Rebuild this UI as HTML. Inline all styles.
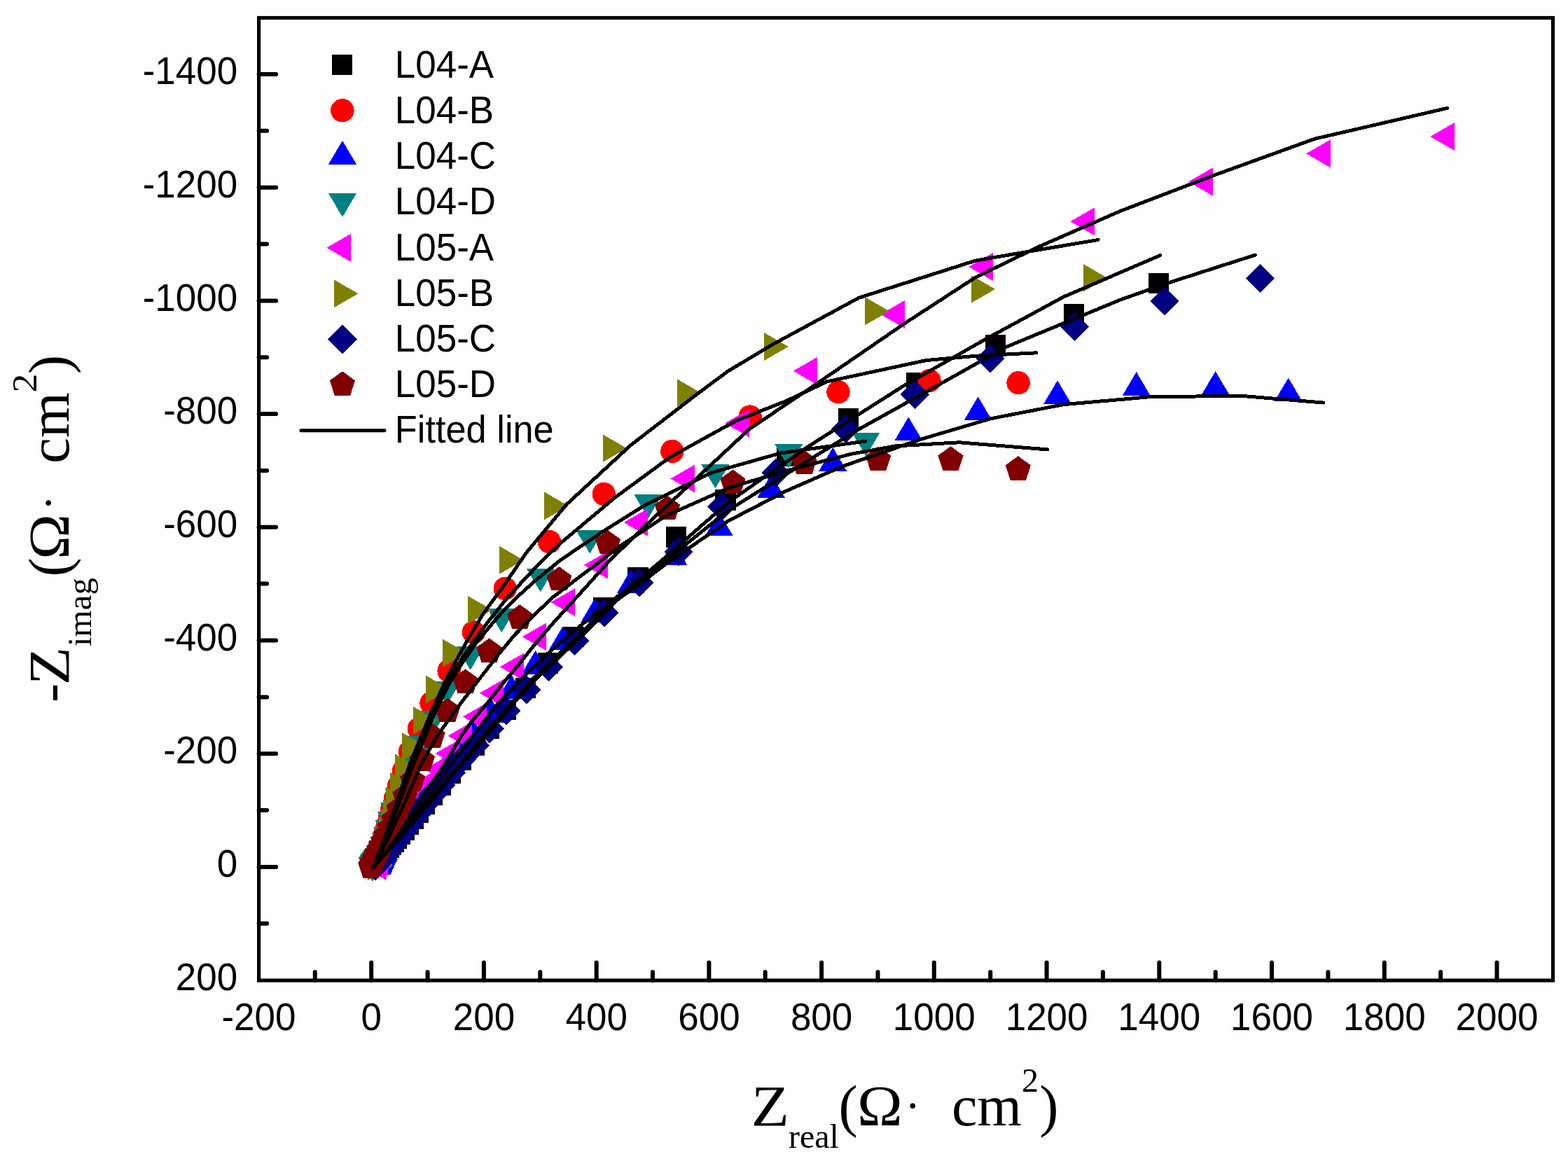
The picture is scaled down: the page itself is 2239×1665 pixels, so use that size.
<!DOCTYPE html>
<html lang="en"><head><meta charset="utf-8"><title>Nyquist plot</title>
<style>
html,body{margin:0;padding:0;background:#fff;}
body{width:2239px;height:1665px;overflow:hidden;}
svg{display:block;}
.tk{font-family:"Liberation Sans",Arial,sans-serif;font-size:53px;fill:#000;}
.ti{font-family:"Liberation Serif","Times New Roman",serif;font-size:81.5px;fill:#000;}
.su{font-family:"Liberation Serif","Times New Roman",serif;font-size:48px;fill:#000;}
</style></head><body>
<svg width="2239" height="1665" viewBox="0 0 2239 1665">
<rect x="0" y="0" width="2239" height="1665" fill="#fefefe"/>

<g shape-rendering="crispEdges">
<g>
<rect x="1639.8" y="390.1" width="29.2" height="29.2" fill="#000000"/>
<rect x="1519.1" y="434.2" width="29.2" height="29.2" fill="#000000"/>
<rect x="1407.1" y="478.3" width="29.2" height="29.2" fill="#000000"/>
<rect x="1294.0" y="532.3" width="29.2" height="29.2" fill="#000000"/>
<rect x="1197.1" y="583.4" width="29.2" height="29.2" fill="#000000"/>
<rect x="1109.0" y="636.4" width="29.2" height="29.2" fill="#000000"/>
<rect x="1021.3" y="699.4" width="29.2" height="29.2" fill="#000000"/>
<rect x="951.0" y="752.3" width="29.2" height="29.2" fill="#000000"/>
<rect x="896.3" y="810.3" width="29.2" height="29.2" fill="#000000"/>
<rect x="847.1" y="853.1" width="29.2" height="29.2" fill="#000000"/>
<rect x="804.3" y="895.2" width="29.2" height="29.2" fill="#000000"/>
<rect x="768.2" y="932.3" width="29.2" height="29.2" fill="#000000"/>
<rect x="736.1" y="967.7" width="29.2" height="29.2" fill="#000000"/>
<rect x="708.1" y="998.8" width="29.2" height="29.2" fill="#000000"/>
<rect x="683.6" y="1026.1" width="29.2" height="29.2" fill="#000000"/>
<rect x="662.3" y="1050.0" width="29.2" height="29.2" fill="#000000"/>
<rect x="643.6" y="1070.6" width="29.2" height="29.2" fill="#000000"/>
<rect x="628.8" y="1089.5" width="29.2" height="29.2" fill="#000000"/>
<rect x="614.6" y="1106.5" width="29.2" height="29.2" fill="#000000"/>
<rect x="602.6" y="1120.3" width="29.2" height="29.2" fill="#000000"/>
<rect x="591.6" y="1133.6" width="29.2" height="29.2" fill="#000000"/>
<rect x="582.8" y="1145.6" width="29.2" height="29.2" fill="#000000"/>
<rect x="575.5" y="1154.7" width="29.2" height="29.2" fill="#000000"/>
<rect x="568.6" y="1163.2" width="29.2" height="29.2" fill="#000000"/>
<rect x="562.3" y="1170.6" width="29.2" height="29.2" fill="#000000"/>
<rect x="556.8" y="1177.1" width="29.2" height="29.2" fill="#000000"/>
<rect x="551.9" y="1182.8" width="29.2" height="29.2" fill="#000000"/>
<rect x="547.7" y="1187.8" width="29.2" height="29.2" fill="#000000"/>
<rect x="544.0" y="1192.2" width="29.2" height="29.2" fill="#000000"/>
<rect x="540.7" y="1196.0" width="29.2" height="29.2" fill="#000000"/>
<rect x="537.8" y="1199.4" width="29.2" height="29.2" fill="#000000"/>
<rect x="535.3" y="1202.3" width="29.2" height="29.2" fill="#000000"/>
<rect x="533.1" y="1204.9" width="29.2" height="29.2" fill="#000000"/>
<rect x="531.2" y="1207.2" width="29.2" height="29.2" fill="#000000"/>
<rect x="529.5" y="1209.2" width="29.2" height="29.2" fill="#000000"/>
<rect x="528.0" y="1210.9" width="29.2" height="29.2" fill="#000000"/>
<rect x="526.7" y="1212.5" width="29.2" height="29.2" fill="#000000"/>
<rect x="525.6" y="1213.8" width="29.2" height="29.2" fill="#000000"/>
<rect x="524.5" y="1215.0" width="29.2" height="29.2" fill="#000000"/>
<rect x="523.7" y="1216.0" width="29.2" height="29.2" fill="#000000"/>
<rect x="522.9" y="1216.9" width="29.2" height="29.2" fill="#000000"/>
<rect x="522.2" y="1217.7" width="29.2" height="29.2" fill="#000000"/>
<rect x="521.6" y="1218.4" width="29.2" height="29.2" fill="#000000"/>
<rect x="521.1" y="1219.0" width="29.2" height="29.2" fill="#000000"/>
<rect x="520.7" y="1219.6" width="29.2" height="29.2" fill="#000000"/>
<rect x="520.3" y="1220.0" width="29.2" height="29.2" fill="#000000"/>
<rect x="519.9" y="1220.5" width="29.2" height="29.2" fill="#000000"/>
<rect x="519.6" y="1220.8" width="29.2" height="29.2" fill="#000000"/>
<rect x="519.3" y="1221.1" width="29.2" height="29.2" fill="#000000"/>
<rect x="519.1" y="1221.4" width="29.2" height="29.2" fill="#000000"/>
<rect x="518.9" y="1221.7" width="29.2" height="29.2" fill="#000000"/>
<rect x="518.7" y="1221.9" width="29.2" height="29.2" fill="#000000"/>
<rect x="518.5" y="1222.1" width="29.2" height="29.2" fill="#000000"/>
<rect x="518.4" y="1222.2" width="29.2" height="29.2" fill="#000000"/>
<rect x="518.3" y="1222.4" width="29.2" height="29.2" fill="#000000"/>
<rect x="518.2" y="1222.5" width="29.2" height="29.2" fill="#000000"/>
<rect x="518.1" y="1222.6" width="29.2" height="29.2" fill="#000000"/>
<rect x="518.0" y="1222.7" width="29.2" height="29.2" fill="#000000"/>
<rect x="517.9" y="1222.8" width="29.2" height="29.2" fill="#000000"/>
<rect x="517.9" y="1222.9" width="29.2" height="29.2" fill="#000000"/>
<rect x="517.8" y="1222.9" width="29.2" height="29.2" fill="#000000"/>
<rect x="517.7" y="1223.0" width="29.2" height="29.2" fill="#000000"/>
<rect x="517.7" y="1223.0" width="29.2" height="29.2" fill="#000000"/>
<rect x="517.7" y="1223.1" width="29.2" height="29.2" fill="#000000"/>
</g>
<g>
<circle cx="1454.1" cy="546.6" r="16.7" fill="#ff0000"/>
<circle cx="1327.0" cy="543.6" r="16.7" fill="#ff0000"/>
<circle cx="1197.0" cy="559.7" r="16.7" fill="#ff0000"/>
<circle cx="1071.2" cy="595.0" r="16.7" fill="#ff0000"/>
<circle cx="959.8" cy="644.4" r="16.7" fill="#ff0000"/>
<circle cx="862.2" cy="705.4" r="16.7" fill="#ff0000"/>
<circle cx="784.4" cy="773.6" r="16.7" fill="#ff0000"/>
<circle cx="721.2" cy="840.4" r="16.7" fill="#ff0000"/>
<circle cx="676.4" cy="902.9" r="16.7" fill="#ff0000"/>
<circle cx="641.1" cy="958.0" r="16.7" fill="#ff0000"/>
<circle cx="616.0" cy="1004.2" r="16.7" fill="#ff0000"/>
<circle cx="598.3" cy="1040.7" r="16.7" fill="#ff0000"/>
<circle cx="585.4" cy="1073.4" r="16.7" fill="#ff0000"/>
<circle cx="576.2" cy="1101.1" r="16.7" fill="#ff0000"/>
<circle cx="569.6" cy="1122.5" r="16.7" fill="#ff0000"/>
<circle cx="564.3" cy="1140.6" r="16.7" fill="#ff0000"/>
<circle cx="559.9" cy="1155.7" r="16.7" fill="#ff0000"/>
<circle cx="556.2" cy="1168.4" r="16.7" fill="#ff0000"/>
<circle cx="553.1" cy="1179.0" r="16.7" fill="#ff0000"/>
<circle cx="550.5" cy="1187.9" r="16.7" fill="#ff0000"/>
<circle cx="548.3" cy="1195.4" r="16.7" fill="#ff0000"/>
<circle cx="546.5" cy="1201.6" r="16.7" fill="#ff0000"/>
<circle cx="544.9" cy="1206.9" r="16.7" fill="#ff0000"/>
<circle cx="543.6" cy="1211.3" r="16.7" fill="#ff0000"/>
<circle cx="542.6" cy="1215.0" r="16.7" fill="#ff0000"/>
<circle cx="541.7" cy="1218.0" r="16.7" fill="#ff0000"/>
<circle cx="540.9" cy="1220.6" r="16.7" fill="#ff0000"/>
<circle cx="540.3" cy="1222.8" r="16.7" fill="#ff0000"/>
<circle cx="539.7" cy="1224.6" r="16.7" fill="#ff0000"/>
<circle cx="539.3" cy="1226.1" r="16.7" fill="#ff0000"/>
<circle cx="538.9" cy="1227.4" r="16.7" fill="#ff0000"/>
<circle cx="538.6" cy="1228.5" r="16.7" fill="#ff0000"/>
<circle cx="538.4" cy="1229.4" r="16.7" fill="#ff0000"/>
<circle cx="538.1" cy="1230.1" r="16.7" fill="#ff0000"/>
<circle cx="538.0" cy="1230.7" r="16.7" fill="#ff0000"/>
<circle cx="537.8" cy="1231.3" r="16.7" fill="#ff0000"/>
<circle cx="537.7" cy="1231.7" r="16.7" fill="#ff0000"/>
<circle cx="537.6" cy="1232.1" r="16.7" fill="#ff0000"/>
<circle cx="537.5" cy="1232.4" r="16.7" fill="#ff0000"/>
<circle cx="537.4" cy="1232.7" r="16.7" fill="#ff0000"/>
<circle cx="537.3" cy="1232.9" r="16.7" fill="#ff0000"/>
<circle cx="537.3" cy="1233.1" r="16.7" fill="#ff0000"/>
<circle cx="537.2" cy="1233.2" r="16.7" fill="#ff0000"/>
<circle cx="537.2" cy="1233.3" r="16.7" fill="#ff0000"/>
<circle cx="537.2" cy="1233.4" r="16.7" fill="#ff0000"/>
<circle cx="537.1" cy="1233.5" r="16.7" fill="#ff0000"/>
<circle cx="537.1" cy="1233.6" r="16.7" fill="#ff0000"/>
<circle cx="537.1" cy="1233.7" r="16.7" fill="#ff0000"/>
<circle cx="537.1" cy="1233.7" r="16.7" fill="#ff0000"/>
<circle cx="537.1" cy="1233.8" r="16.7" fill="#ff0000"/>
<circle cx="537.1" cy="1233.8" r="16.7" fill="#ff0000"/>
<circle cx="537.0" cy="1233.8" r="16.7" fill="#ff0000"/>
<circle cx="537.0" cy="1233.9" r="16.7" fill="#ff0000"/>
<circle cx="537.0" cy="1233.9" r="16.7" fill="#ff0000"/>
<circle cx="537.0" cy="1233.9" r="16.7" fill="#ff0000"/>
</g>
<g>
<polygon points="1839.7,539.5 1859.7,573.4 1819.7,573.4" fill="#0000ff"/>
<polygon points="1735.6,530.1 1755.6,564.0 1715.6,564.0" fill="#0000ff"/>
<polygon points="1622.7,531.1 1642.7,565.0 1602.7,565.0" fill="#0000ff"/>
<polygon points="1510.0,543.2 1530.0,577.1 1490.0,577.1" fill="#0000ff"/>
<polygon points="1396.6,566.4 1416.6,600.3 1376.6,600.3" fill="#0000ff"/>
<polygon points="1297.3,595.4 1317.3,629.3 1277.3,629.3" fill="#0000ff"/>
<polygon points="1189.3,638.7 1209.3,672.6 1169.3,672.6" fill="#0000ff"/>
<polygon points="1101.2,677.2 1121.2,711.1 1081.2,711.1" fill="#0000ff"/>
<polygon points="1026.8,731.4 1046.8,765.3 1006.8,765.3" fill="#0000ff"/>
<polygon points="961.3,773.0 981.3,806.9 941.3,806.9" fill="#0000ff"/>
<polygon points="900.8,813.4 920.8,847.3 880.8,847.3" fill="#0000ff"/>
<polygon points="849.1,855.0 869.1,888.9 829.1,888.9" fill="#0000ff"/>
<polygon points="803.8,894.0 823.8,927.9 783.8,927.9" fill="#0000ff"/>
<polygon points="764.6,928.7 784.6,962.6 744.6,962.6" fill="#0000ff"/>
<polygon points="730.6,963.9 750.6,997.8 710.6,997.8" fill="#0000ff"/>
<polygon points="701.6,998.0 721.6,1031.9 681.6,1031.9" fill="#0000ff"/>
<polygon points="675.7,1027.1 695.7,1061.0 655.7,1061.0" fill="#0000ff"/>
<polygon points="654.5,1052.4 674.5,1086.3 634.5,1086.3" fill="#0000ff"/>
<polygon points="636.6,1074.2 656.6,1108.1 616.6,1108.1" fill="#0000ff"/>
<polygon points="621.8,1093.1 641.8,1127.0 601.8,1127.0" fill="#0000ff"/>
<polygon points="608.4,1109.5 628.4,1143.4 588.4,1143.4" fill="#0000ff"/>
<polygon points="597.2,1123.7 617.2,1157.6 577.2,1157.6" fill="#0000ff"/>
<polygon points="588.6,1136.0 608.6,1169.9 568.6,1169.9" fill="#0000ff"/>
<polygon points="580.7,1146.6 600.7,1180.5 560.7,1180.5" fill="#0000ff"/>
<polygon points="573.7,1155.8 593.7,1189.7 553.7,1189.7" fill="#0000ff"/>
<polygon points="567.5,1163.8 587.5,1197.7 547.5,1197.7" fill="#0000ff"/>
<polygon points="562.6,1170.7 582.6,1204.6 542.6,1204.6" fill="#0000ff"/>
<polygon points="558.7,1176.7 578.7,1210.6 538.7,1210.6" fill="#0000ff"/>
<polygon points="555.3,1181.9 575.3,1215.8 535.3,1215.8" fill="#0000ff"/>
<polygon points="552.4,1186.4 572.4,1220.3 532.4,1220.3" fill="#0000ff"/>
<polygon points="549.8,1190.3 569.8,1224.2 529.8,1224.2" fill="#0000ff"/>
<polygon points="547.9,1193.6 567.9,1227.5 527.9,1227.5" fill="#0000ff"/>
<polygon points="546.6,1196.6 566.6,1230.5 526.6,1230.5" fill="#0000ff"/>
<polygon points="545.6,1199.1 565.6,1233.0 525.6,1233.0" fill="#0000ff"/>
<polygon points="544.6,1201.3 564.6,1235.2 524.6,1235.2" fill="#0000ff"/>
<polygon points="543.8,1203.2 563.8,1237.1 523.8,1237.1" fill="#0000ff"/>
<polygon points="543.1,1204.8 563.1,1238.7 523.1,1238.7" fill="#0000ff"/>
<polygon points="542.4,1206.2 562.4,1240.1 522.4,1240.1" fill="#0000ff"/>
<polygon points="541.8,1207.5 561.8,1241.4 521.8,1241.4" fill="#0000ff"/>
<polygon points="541.2,1208.5 561.2,1242.4 521.2,1242.4" fill="#0000ff"/>
<polygon points="540.8,1209.4 560.8,1243.3 520.8,1243.3" fill="#0000ff"/>
<polygon points="540.3,1210.2 560.3,1244.1 520.3,1244.1" fill="#0000ff"/>
<polygon points="540.0,1210.9 560.0,1244.8 520.0,1244.8" fill="#0000ff"/>
<polygon points="539.7,1211.5 559.7,1245.4 519.7,1245.4" fill="#0000ff"/>
<polygon points="539.4,1212.0 559.4,1245.9 519.4,1245.9" fill="#0000ff"/>
<polygon points="539.2,1212.5 559.2,1246.4 519.2,1246.4" fill="#0000ff"/>
<polygon points="539.0,1212.9 559.0,1246.8 519.0,1246.8" fill="#0000ff"/>
<polygon points="538.8,1213.2 558.8,1247.1 518.8,1247.1" fill="#0000ff"/>
<polygon points="538.7,1213.5 558.7,1247.4 518.7,1247.4" fill="#0000ff"/>
<polygon points="538.5,1213.8 558.5,1247.7 518.5,1247.7" fill="#0000ff"/>
<polygon points="538.4,1214.0 558.4,1247.9 518.4,1247.9" fill="#0000ff"/>
<polygon points="538.4,1214.2 558.4,1248.1 518.4,1248.1" fill="#0000ff"/>
<polygon points="538.4,1214.3 558.4,1248.2 518.4,1248.2" fill="#0000ff"/>
<polygon points="538.5,1214.5 558.5,1248.4 518.5,1248.4" fill="#0000ff"/>
<polygon points="538.5,1214.6 558.5,1248.5 518.5,1248.5" fill="#0000ff"/>
<polygon points="538.5,1214.7 558.5,1248.6 518.5,1248.6" fill="#0000ff"/>
</g>
<g>
<polygon points="1236.6,651.4 1256.6,617.5 1216.6,617.5" fill="#008080"/>
<polygon points="1126.3,668.3 1146.3,634.4 1106.3,634.4" fill="#008080"/>
<polygon points="1021.4,697.3 1041.4,663.4 1001.4,663.4" fill="#008080"/>
<polygon points="925.6,740.2 945.6,706.3 905.6,706.3" fill="#008080"/>
<polygon points="842.3,790.6 862.3,756.7 822.3,756.7" fill="#008080"/>
<polygon points="771.7,845.4 791.7,811.5 751.7,811.5" fill="#008080"/>
<polygon points="716.2,903.3 736.2,869.4 696.2,869.4" fill="#008080"/>
<polygon points="671.7,956.7 691.7,922.8 651.7,922.8" fill="#008080"/>
<polygon points="638.0,1006.8 658.0,972.9 618.0,972.9" fill="#008080"/>
<polygon points="618.2,1048.7 638.2,1014.8 598.2,1014.8" fill="#008080"/>
<polygon points="602.1,1084.7 622.1,1050.8 582.1,1050.8" fill="#008080"/>
<polygon points="589.0,1114.7 609.0,1080.8 569.0,1080.8" fill="#008080"/>
<polygon points="578.4,1139.5 598.4,1105.6 558.4,1105.6" fill="#008080"/>
<polygon points="569.7,1160.2 589.7,1126.3 549.7,1126.3" fill="#008080"/>
<polygon points="562.7,1179.4 582.7,1145.5 542.7,1145.5" fill="#008080"/>
<polygon points="558.9,1193.2 578.9,1159.3 538.9,1159.3" fill="#008080"/>
<polygon points="555.8,1205.2 575.8,1171.3 535.8,1171.3" fill="#008080"/>
<polygon points="553.3,1214.6 573.3,1180.7 533.3,1180.7" fill="#008080"/>
<polygon points="550.7,1222.8 570.7,1188.9 530.7,1188.9" fill="#008080"/>
<polygon points="548.8,1228.5 568.8,1194.6 528.8,1194.6" fill="#008080"/>
<polygon points="547.0,1234.2 567.0,1200.3 527.0,1200.3" fill="#008080"/>
<polygon points="544.4,1238.4 564.4,1204.5 524.4,1204.5" fill="#008080"/>
<polygon points="542.3,1241.8 562.3,1207.9 522.3,1207.9" fill="#008080"/>
<polygon points="540.5,1244.7 560.5,1210.8 520.5,1210.8" fill="#008080"/>
<polygon points="539.0,1247.1 559.0,1213.2 519.0,1213.2" fill="#008080"/>
<polygon points="537.8,1249.0 557.8,1215.1 517.8,1215.1" fill="#008080"/>
<polygon points="536.8,1250.7 556.8,1216.8 516.8,1216.8" fill="#008080"/>
<polygon points="535.9,1252.1 555.9,1218.2 515.9,1218.2" fill="#008080"/>
<polygon points="535.2,1253.2 555.2,1219.3 515.2,1219.3" fill="#008080"/>
<polygon points="534.6,1254.1 554.6,1220.2 514.6,1220.2" fill="#008080"/>
<polygon points="534.2,1254.9 554.2,1221.0 514.2,1221.0" fill="#008080"/>
<polygon points="533.8,1255.5 553.8,1221.6 513.8,1221.6" fill="#008080"/>
<polygon points="533.4,1256.1 553.4,1222.2 513.4,1222.2" fill="#008080"/>
<polygon points="533.1,1256.5 553.1,1222.6 513.1,1222.6" fill="#008080"/>
<polygon points="532.9,1256.9 552.9,1223.0 512.9,1223.0" fill="#008080"/>
<polygon points="532.7,1257.2 552.7,1223.3 512.7,1223.3" fill="#008080"/>
<polygon points="532.6,1257.5 552.6,1223.6 512.6,1223.6" fill="#008080"/>
<polygon points="532.4,1257.7 552.4,1223.8 512.4,1223.8" fill="#008080"/>
<polygon points="532.3,1257.8 552.3,1223.9 512.3,1223.9" fill="#008080"/>
<polygon points="532.2,1258.0 552.2,1224.1 512.2,1224.1" fill="#008080"/>
<polygon points="532.2,1258.1 552.2,1224.2 512.2,1224.2" fill="#008080"/>
<polygon points="532.1,1258.2 552.1,1224.3 512.1,1224.3" fill="#008080"/>
<polygon points="532.1,1258.3 552.1,1224.4 512.1,1224.4" fill="#008080"/>
<polygon points="532.0,1258.4 552.0,1224.5 512.0,1224.5" fill="#008080"/>
<polygon points="532.0,1258.4 552.0,1224.5 512.0,1224.5" fill="#008080"/>
<polygon points="531.9,1258.5 551.9,1224.6 511.9,1224.6" fill="#008080"/>
<polygon points="531.9,1258.5 551.9,1224.6 511.9,1224.6" fill="#008080"/>
<polygon points="531.9,1258.5 551.9,1224.6 511.9,1224.6" fill="#008080"/>
<polygon points="531.9,1258.6 551.9,1224.7 511.9,1224.7" fill="#008080"/>
<polygon points="531.9,1258.6 551.9,1224.7 511.9,1224.7" fill="#008080"/>
<polygon points="531.9,1258.6 551.9,1224.7 511.9,1224.7" fill="#008080"/>
<polygon points="531.8,1258.6 551.8,1224.7 511.8,1224.7" fill="#008080"/>
<polygon points="531.8,1258.6 551.8,1224.7 511.8,1224.7" fill="#008080"/>
<polygon points="531.8,1258.6 551.8,1224.7 511.8,1224.7" fill="#008080"/>
<polygon points="531.8,1258.7 551.8,1224.8 511.8,1224.8" fill="#008080"/>
<polygon points="531.8,1258.7 551.8,1224.8 511.8,1224.8" fill="#008080"/>
<polygon points="531.8,1258.7 551.8,1224.8 511.8,1224.8" fill="#008080"/>
<polygon points="531.8,1258.7 551.8,1224.8 511.8,1224.8" fill="#008080"/>
<polygon points="531.8,1258.7 551.8,1224.8 511.8,1224.8" fill="#008080"/>
<polygon points="531.8,1258.7 551.8,1224.8 511.8,1224.8" fill="#008080"/>
<polygon points="531.8,1258.7 551.8,1224.8 511.8,1224.8" fill="#008080"/>
</g>
<g>
<polygon points="2042.3,195.0 2076.8,175.1 2076.8,214.9" fill="#ff00ff"/>
<polygon points="1865.1,219.3 1899.6,199.4 1899.6,239.2" fill="#ff00ff"/>
<polygon points="1697.0,259.5 1731.5,239.6 1731.5,279.4" fill="#ff00ff"/>
<polygon points="1528.4,316.3 1562.9,296.4 1562.9,336.2" fill="#ff00ff"/>
<polygon points="1383.2,381.0 1417.7,361.1 1417.7,400.9" fill="#ff00ff"/>
<polygon points="1257.3,448.8 1291.8,428.9 1291.8,468.7" fill="#ff00ff"/>
<polygon points="1132.7,529.7 1167.2,509.8 1167.2,549.6" fill="#ff00ff"/>
<polygon points="1035.2,604.3 1069.7,584.4 1069.7,624.2" fill="#ff00ff"/>
<polygon points="957.5,683.5 992.0,663.6 992.0,703.4" fill="#ff00ff"/>
<polygon points="890.7,746.0 925.2,726.1 925.2,765.9" fill="#ff00ff"/>
<polygon points="833.7,806.8 868.2,786.9 868.2,826.7" fill="#ff00ff"/>
<polygon points="786.6,860.0 821.1,840.1 821.1,879.9" fill="#ff00ff"/>
<polygon points="745.7,909.2 780.2,889.3 780.2,929.1" fill="#ff00ff"/>
<polygon points="713.7,952.3 748.2,932.4 748.2,972.2" fill="#ff00ff"/>
<polygon points="684.8,989.7 719.3,969.8 719.3,1009.6" fill="#ff00ff"/>
<polygon points="660.8,1023.3 695.3,1003.4 695.3,1043.2" fill="#ff00ff"/>
<polygon points="639.4,1050.8 673.9,1030.9 673.9,1070.7" fill="#ff00ff"/>
<polygon points="621.6,1075.9 656.1,1056.0 656.1,1095.8" fill="#ff00ff"/>
<polygon points="605.8,1098.6 640.3,1078.7 640.3,1118.5" fill="#ff00ff"/>
<polygon points="592.3,1117.4 626.8,1097.5 626.8,1137.3" fill="#ff00ff"/>
<polygon points="580.1,1133.7 614.6,1113.8 614.6,1153.6" fill="#ff00ff"/>
<polygon points="569.5,1147.7 604.0,1127.8 604.0,1167.7" fill="#ff00ff"/>
<polygon points="561.5,1159.9 596.0,1140.0 596.0,1179.8" fill="#ff00ff"/>
<polygon points="553.8,1170.4 588.3,1150.4 588.3,1190.3" fill="#ff00ff"/>
<polygon points="547.2,1179.4 581.7,1159.5 581.7,1199.3" fill="#ff00ff"/>
<polygon points="541.5,1187.3 576.0,1167.3 576.0,1207.2" fill="#ff00ff"/>
<polygon points="536.5,1194.0 571.0,1174.1 571.0,1213.9" fill="#ff00ff"/>
<polygon points="532.3,1199.9 566.8,1179.9 566.8,1219.8" fill="#ff00ff"/>
<polygon points="529.4,1204.9 563.9,1185.0 563.9,1224.8" fill="#ff00ff"/>
<polygon points="526.9,1209.3 561.4,1189.4 561.4,1229.2" fill="#ff00ff"/>
<polygon points="524.8,1213.1 559.3,1193.1 559.3,1233.0" fill="#ff00ff"/>
<polygon points="522.9,1216.3 557.4,1196.4 557.4,1236.2" fill="#ff00ff"/>
<polygon points="521.6,1219.1 556.1,1199.2 556.1,1239.0" fill="#ff00ff"/>
<polygon points="520.9,1221.6 555.4,1201.6 555.4,1241.5" fill="#ff00ff"/>
<polygon points="520.2,1223.7 554.7,1203.7 554.7,1243.6" fill="#ff00ff"/>
<polygon points="519.6,1225.5 554.1,1205.6 554.1,1245.4" fill="#ff00ff"/>
<polygon points="519.1,1227.0 553.6,1207.1 553.6,1247.0" fill="#ff00ff"/>
<polygon points="518.7,1228.4 553.2,1208.5 553.2,1248.3" fill="#ff00ff"/>
<polygon points="518.3,1229.6 552.8,1209.6 552.8,1249.5" fill="#ff00ff"/>
<polygon points="518.1,1230.6 552.6,1210.7 552.6,1250.5" fill="#ff00ff"/>
<polygon points="517.9,1231.4 552.4,1211.5 552.4,1251.4" fill="#ff00ff"/>
<polygon points="517.7,1232.2 552.2,1212.3 552.2,1252.1" fill="#ff00ff"/>
<polygon points="517.5,1232.9 552.0,1212.9 552.0,1252.8" fill="#ff00ff"/>
<polygon points="517.4,1233.4 551.9,1213.5 551.9,1253.3" fill="#ff00ff"/>
<polygon points="517.3,1233.9 551.8,1214.0 551.8,1253.8" fill="#ff00ff"/>
<polygon points="517.2,1234.3 551.7,1214.4 551.7,1254.2" fill="#ff00ff"/>
<polygon points="517.1,1234.7 551.6,1214.8 551.6,1254.6" fill="#ff00ff"/>
<polygon points="517.0,1235.0 551.5,1215.1 551.5,1254.9" fill="#ff00ff"/>
<polygon points="516.9,1235.3 551.4,1215.4 551.4,1255.2" fill="#ff00ff"/>
<polygon points="516.9,1235.5 551.4,1215.6 551.4,1255.4" fill="#ff00ff"/>
<polygon points="516.8,1235.7 551.3,1215.8 551.3,1255.6" fill="#ff00ff"/>
<polygon points="516.8,1235.9 551.3,1216.0 551.3,1255.8" fill="#ff00ff"/>
<polygon points="516.7,1236.0 551.2,1216.1 551.2,1256.0" fill="#ff00ff"/>
<polygon points="516.7,1236.2 551.2,1216.3 551.2,1256.1" fill="#ff00ff"/>
<polygon points="516.7,1236.3 551.2,1216.4 551.2,1256.2" fill="#ff00ff"/>
<polygon points="516.7,1236.4 551.2,1216.5 551.2,1256.3" fill="#ff00ff"/>
<polygon points="516.6,1236.5 551.1,1216.5 551.1,1256.4" fill="#ff00ff"/>
<polygon points="516.6,1236.5 551.1,1216.6 551.1,1256.5" fill="#ff00ff"/>
<polygon points="516.6,1236.6 551.1,1216.7 551.1,1256.5" fill="#ff00ff"/>
</g>
<g>
<polygon points="1581.1,396.8 1546.6,376.9 1546.6,416.7" fill="#808000"/>
<polygon points="1421.0,412.9 1386.5,393.0 1386.5,432.8" fill="#808000"/>
<polygon points="1269.8,444.3 1235.3,424.4 1235.3,464.2" fill="#808000"/>
<polygon points="1125.7,495.0 1091.2,475.1 1091.2,514.9" fill="#808000"/>
<polygon points="1001.0,561.0 966.5,541.1 966.5,580.9" fill="#808000"/>
<polygon points="895.0,640.1 860.5,620.2 860.5,660.0" fill="#808000"/>
<polygon points="811.7,722.4 777.2,702.5 777.2,742.3" fill="#808000"/>
<polygon points="747.7,799.8 713.2,779.9 713.2,819.7" fill="#808000"/>
<polygon points="702.8,871.0 668.3,851.1 668.3,890.9" fill="#808000"/>
<polygon points="666.6,932.5 632.1,912.6 632.1,952.4" fill="#808000"/>
<polygon points="642.1,984.2 607.6,964.3 607.6,1004.1" fill="#808000"/>
<polygon points="624.0,1028.6 589.5,1008.7 589.5,1048.5" fill="#808000"/>
<polygon points="608.8,1066.2 574.3,1046.3 574.3,1086.1" fill="#808000"/>
<polygon points="598.8,1096.7 564.3,1076.8 564.3,1116.6" fill="#808000"/>
<polygon points="591.5,1122.9 557.0,1103.0 557.0,1142.8" fill="#808000"/>
<polygon points="585.5,1143.3 551.0,1123.4 551.0,1163.2" fill="#808000"/>
<polygon points="581.8,1161.3 547.3,1141.4 547.3,1181.2" fill="#808000"/>
<polygon points="578.6,1175.2 544.1,1155.3 544.1,1195.1" fill="#808000"/>
<polygon points="575.1,1186.4 540.6,1166.5 540.6,1206.4" fill="#808000"/>
<polygon points="572.2,1195.6 537.7,1175.7 537.7,1215.6" fill="#808000"/>
<polygon points="569.9,1203.2 535.4,1183.3 535.4,1223.1" fill="#808000"/>
<polygon points="568.0,1209.4 533.5,1189.5 533.5,1229.3" fill="#808000"/>
<polygon points="566.4,1214.5 531.9,1194.5 531.9,1234.4" fill="#808000"/>
<polygon points="565.1,1218.6 530.6,1198.7 530.6,1238.5" fill="#808000"/>
<polygon points="564.0,1222.0 529.5,1202.1 529.5,1242.0" fill="#808000"/>
<polygon points="563.2,1224.8 528.7,1204.9 528.7,1244.8" fill="#808000"/>
<polygon points="562.5,1227.1 528.0,1207.2 528.0,1247.1" fill="#808000"/>
<polygon points="561.9,1229.0 527.4,1209.1 527.4,1248.9" fill="#808000"/>
<polygon points="561.4,1230.6 526.9,1210.6 526.9,1250.5" fill="#808000"/>
<polygon points="561.0,1231.8 526.5,1211.9 526.5,1251.8" fill="#808000"/>
<polygon points="560.7,1232.9 526.2,1213.0 526.2,1252.8" fill="#808000"/>
<polygon points="560.4,1233.7 525.9,1213.8 525.9,1253.6" fill="#808000"/>
<polygon points="560.2,1234.4 525.7,1214.5 525.7,1254.3" fill="#808000"/>
<polygon points="560.0,1235.0 525.5,1215.1 525.5,1254.9" fill="#808000"/>
<polygon points="559.9,1235.5 525.4,1215.5 525.4,1255.4" fill="#808000"/>
<polygon points="559.7,1235.8 525.2,1215.9 525.2,1255.8" fill="#808000"/>
<polygon points="559.6,1236.2 525.1,1216.2 525.1,1256.1" fill="#808000"/>
<polygon points="559.6,1236.4 525.1,1216.5 525.1,1256.3" fill="#808000"/>
<polygon points="559.5,1236.6 525.0,1216.7 525.0,1256.6" fill="#808000"/>
<polygon points="559.4,1236.8 524.9,1216.9 524.9,1256.7" fill="#808000"/>
<polygon points="559.4,1237.0 524.9,1217.0 524.9,1256.9" fill="#808000"/>
<polygon points="559.4,1237.1 524.9,1217.1 524.9,1257.0" fill="#808000"/>
<polygon points="559.3,1237.2 524.8,1217.2 524.8,1257.1" fill="#808000"/>
<polygon points="559.3,1237.2 524.8,1217.3 524.8,1257.2" fill="#808000"/>
<polygon points="559.3,1237.3 524.8,1217.4 524.8,1257.2" fill="#808000"/>
<polygon points="559.3,1237.4 524.8,1217.4 524.8,1257.3" fill="#808000"/>
<polygon points="559.3,1237.4 524.8,1217.5 524.8,1257.3" fill="#808000"/>
<polygon points="559.3,1237.4 524.8,1217.5 524.8,1257.4" fill="#808000"/>
<polygon points="559.2,1237.5 524.7,1217.5 524.7,1257.4" fill="#808000"/>
<polygon points="559.2,1237.5 524.7,1217.6 524.7,1257.4" fill="#808000"/>
<polygon points="559.2,1237.5 524.7,1217.6 524.7,1257.4" fill="#808000"/>
<polygon points="559.2,1237.5 524.7,1217.6 524.7,1257.4" fill="#808000"/>
<polygon points="559.2,1237.5 524.7,1217.6 524.7,1257.5" fill="#808000"/>
<polygon points="559.2,1237.6 524.7,1217.6 524.7,1257.5" fill="#808000"/>
<polygon points="559.2,1237.6 524.7,1217.6 524.7,1257.5" fill="#808000"/>
<polygon points="559.2,1237.6 524.7,1217.6 524.7,1257.5" fill="#808000"/>
<polygon points="559.2,1237.6 524.7,1217.7 524.7,1257.5" fill="#808000"/>
<polygon points="559.2,1237.6 524.7,1217.7 524.7,1257.5" fill="#808000"/>
</g>
<g>
<polygon points="1799.5,377.0 1820.1,397.6 1799.5,418.2 1778.9,397.6" fill="#000080"/>
<polygon points="1663.1,409.3 1683.7,429.9 1663.1,450.5 1642.5,429.9" fill="#000080"/>
<polygon points="1534.7,445.8 1555.3,466.4 1534.7,487.0 1514.1,466.4" fill="#000080"/>
<polygon points="1414.1,491.7 1434.7,512.3 1414.1,532.9 1393.5,512.3" fill="#000080"/>
<polygon points="1306.1,542.8 1326.7,563.4 1306.1,584.0 1285.5,563.4" fill="#000080"/>
<polygon points="1207.6,591.8 1228.2,612.4 1207.6,633.0 1187.0,612.4" fill="#000080"/>
<polygon points="1108.0,654.1 1128.6,674.7 1108.0,695.3 1087.4,674.7" fill="#000080"/>
<polygon points="1030.6,703.2 1051.2,723.8 1030.6,744.4 1010.0,723.8" fill="#000080"/>
<polygon points="968.9,767.5 989.5,788.1 968.9,808.7 948.3,788.1" fill="#000080"/>
<polygon points="912.9,811.1 933.5,831.7 912.9,852.3 892.3,831.7" fill="#000080"/>
<polygon points="863.0,854.4 883.6,875.0 863.0,895.6 842.4,875.0" fill="#000080"/>
<polygon points="820.7,894.7 841.3,915.3 820.7,935.9 800.1,915.3" fill="#000080"/>
<polygon points="783.5,931.9 804.1,952.5 783.5,973.1 762.9,952.5" fill="#000080"/>
<polygon points="752.0,964.7 772.6,985.3 752.0,1005.9 731.4,985.3" fill="#000080"/>
<polygon points="723.0,994.1 743.6,1014.7 723.0,1035.3 702.4,1014.7" fill="#000080"/>
<polygon points="699.1,1020.1 719.7,1040.7 699.1,1061.3 678.5,1040.7" fill="#000080"/>
<polygon points="678.3,1044.0 698.9,1064.6 678.3,1085.2 657.7,1064.6" fill="#000080"/>
<polygon points="659.7,1064.1 680.3,1084.7 659.7,1105.3 639.1,1084.7" fill="#000080"/>
<polygon points="644.2,1083.0 664.8,1103.6 644.2,1124.2 623.6,1103.6" fill="#000080"/>
<polygon points="630.0,1100.2 650.6,1120.8 630.0,1141.4 609.4,1120.8" fill="#000080"/>
<polygon points="618.0,1114.0 638.6,1134.6 618.0,1155.2 597.4,1134.6" fill="#000080"/>
<polygon points="607.0,1127.3 627.6,1147.9 607.0,1168.5 586.4,1147.9" fill="#000080"/>
<polygon points="598.2,1139.3 618.8,1159.9 598.2,1180.5 577.6,1159.9" fill="#000080"/>
<polygon points="590.9,1148.4 611.5,1169.0 590.9,1189.6 570.3,1169.0" fill="#000080"/>
<polygon points="584.0,1156.9 604.6,1177.5 584.0,1198.1 563.4,1177.5" fill="#000080"/>
<polygon points="578.0,1164.2 598.6,1184.8 578.0,1205.4 557.4,1184.8" fill="#000080"/>
<polygon points="572.8,1170.6 593.4,1191.2 572.8,1211.8 552.2,1191.2" fill="#000080"/>
<polygon points="568.2,1176.3 588.8,1196.9 568.2,1217.5 547.6,1196.9" fill="#000080"/>
<polygon points="564.2,1181.2 584.8,1201.8 564.2,1222.4 543.6,1201.8" fill="#000080"/>
<polygon points="560.7,1185.5 581.3,1206.1 560.7,1226.7 540.1,1206.1" fill="#000080"/>
<polygon points="557.6,1189.3 578.2,1209.9 557.6,1230.5 537.0,1209.9" fill="#000080"/>
<polygon points="554.9,1192.7 575.5,1213.3 554.9,1233.9 534.3,1213.3" fill="#000080"/>
<polygon points="552.5,1195.6 573.1,1216.2 552.5,1236.8 531.9,1216.2" fill="#000080"/>
<polygon points="550.4,1198.1 571.0,1218.7 550.4,1239.3 529.8,1218.7" fill="#000080"/>
<polygon points="548.6,1200.4 569.2,1221.0 548.6,1241.6 528.0,1221.0" fill="#000080"/>
<polygon points="546.9,1202.4 567.5,1223.0 546.9,1243.6 526.3,1223.0" fill="#000080"/>
<polygon points="545.5,1204.1 566.1,1224.7 545.5,1245.3 524.9,1224.7" fill="#000080"/>
<polygon points="544.3,1205.6 564.9,1226.2 544.3,1246.8 523.7,1226.2" fill="#000080"/>
<polygon points="543.2,1206.9 563.8,1227.5 543.2,1248.1 522.6,1227.5" fill="#000080"/>
<polygon points="542.3,1208.1 562.9,1228.7 542.3,1249.3 521.7,1228.7" fill="#000080"/>
<polygon points="541.4,1209.1 562.0,1229.7 541.4,1250.3 520.8,1229.7" fill="#000080"/>
<polygon points="540.7,1210.0 561.3,1230.6 540.7,1251.2 520.1,1230.6" fill="#000080"/>
<polygon points="540.1,1210.8 560.7,1231.4 540.1,1252.0 519.5,1231.4" fill="#000080"/>
<polygon points="539.5,1211.5 560.1,1232.1 539.5,1252.7 518.9,1232.1" fill="#000080"/>
<polygon points="539.0,1212.1 559.6,1232.7 539.0,1253.3 518.4,1232.7" fill="#000080"/>
<polygon points="538.6,1212.6 559.2,1233.2 538.6,1253.8 518.0,1233.2" fill="#000080"/>
<polygon points="538.2,1213.1 558.8,1233.7 538.2,1254.3 517.6,1233.7" fill="#000080"/>
<polygon points="537.9,1213.5 558.5,1234.1 537.9,1254.7 517.3,1234.1" fill="#000080"/>
<polygon points="537.6,1213.9 558.2,1234.5 537.6,1255.1 517.0,1234.5" fill="#000080"/>
<polygon points="537.3,1214.2 557.9,1234.8 537.3,1255.4 516.7,1234.8" fill="#000080"/>
<polygon points="537.1,1214.4 557.7,1235.0 537.1,1255.6 516.5,1235.0" fill="#000080"/>
<polygon points="536.9,1214.7 557.5,1235.3 536.9,1255.9 516.3,1235.3" fill="#000080"/>
<polygon points="536.7,1214.9 557.3,1235.5 536.7,1256.1 516.1,1235.5" fill="#000080"/>
<polygon points="536.6,1215.1 557.2,1235.7 536.6,1256.3 516.0,1235.7" fill="#000080"/>
<polygon points="536.4,1215.2 557.0,1235.8 536.4,1256.4 515.8,1235.8" fill="#000080"/>
<polygon points="536.3,1215.4 556.9,1236.0 536.3,1256.6 515.7,1236.0" fill="#000080"/>
<polygon points="536.2,1215.5 556.8,1236.1 536.2,1256.7 515.6,1236.1" fill="#000080"/>
<polygon points="536.1,1215.6 556.7,1236.2 536.1,1256.8 515.5,1236.2" fill="#000080"/>
<polygon points="536.1,1215.7 556.7,1236.3 536.1,1256.9 515.5,1236.3" fill="#000080"/>
<polygon points="536.0,1215.8 556.6,1236.4 536.0,1257.0 515.4,1236.4" fill="#000080"/>
<polygon points="535.9,1215.9 556.5,1236.5 535.9,1257.1 515.3,1236.5" fill="#000080"/>
<polygon points="535.9,1215.9 556.5,1236.5 535.9,1257.1 515.3,1236.5" fill="#000080"/>
<polygon points="535.8,1216.0 556.4,1236.6 535.8,1257.2 515.2,1236.6" fill="#000080"/>
<polygon points="535.8,1216.0 556.4,1236.6 535.8,1257.2 515.2,1236.6" fill="#000080"/>
<polygon points="535.8,1216.1 556.4,1236.7 535.8,1257.3 515.2,1236.7" fill="#000080"/>
</g>
<g>
<polygon points="1453.8,651.2 1471.9,664.3 1465.0,685.6 1442.6,685.6 1435.7,664.3" fill="#800000"/>
<polygon points="1357.5,637.3 1375.6,650.4 1368.7,671.7 1346.3,671.7 1339.4,650.4" fill="#800000"/>
<polygon points="1254.1,637.5 1272.2,650.6 1265.3,671.9 1242.9,671.9 1236.0,650.6" fill="#800000"/>
<polygon points="1148.5,642.8 1166.6,655.9 1159.7,677.2 1137.3,677.2 1130.4,655.9" fill="#800000"/>
<polygon points="1046.5,670.5 1064.6,683.6 1057.7,704.9 1035.3,704.9 1028.4,683.6" fill="#800000"/>
<polygon points="953.0,707.6 971.1,720.7 964.2,742.0 941.8,742.0 934.9,720.7" fill="#800000"/>
<polygon points="868.0,757.0 886.1,770.1 879.2,791.4 856.8,791.4 849.9,770.1" fill="#800000"/>
<polygon points="798.5,809.0 816.6,822.1 809.7,843.4 787.3,843.4 780.4,822.1" fill="#800000"/>
<polygon points="742.2,863.2 760.3,876.3 753.4,897.6 731.0,897.6 724.1,876.3" fill="#800000"/>
<polygon points="698.6,911.3 716.7,924.4 709.8,945.7 687.4,945.7 680.5,924.4" fill="#800000"/>
<polygon points="664.6,955.4 682.7,968.5 675.8,989.8 653.4,989.8 646.5,968.5" fill="#800000"/>
<polygon points="639.1,996.7 657.2,1009.8 650.3,1031.1 627.9,1031.1 621.0,1009.8" fill="#800000"/>
<polygon points="617.7,1033.1 635.8,1046.2 628.9,1067.5 606.5,1067.5 599.6,1046.2" fill="#800000"/>
<polygon points="603.0,1067.0 621.1,1080.1 614.2,1101.4 591.8,1101.4 584.9,1080.1" fill="#800000"/>
<polygon points="589.1,1095.6 607.2,1108.7 600.3,1130.0 577.9,1130.0 571.0,1108.7" fill="#800000"/>
<polygon points="578.2,1118.2 596.3,1131.3 589.4,1152.5 567.1,1152.5 560.2,1131.3" fill="#800000"/>
<polygon points="569.3,1136.6 587.4,1149.8 580.5,1171.0 558.2,1171.0 551.3,1149.8" fill="#800000"/>
<polygon points="562.1,1151.7 580.1,1164.9 573.2,1186.1 550.9,1186.1 544.0,1164.9" fill="#800000"/>
<polygon points="556.1,1164.1 574.2,1177.2 567.3,1198.5 545.0,1198.5 538.1,1177.2" fill="#800000"/>
<polygon points="551.3,1174.2 569.3,1187.3 562.4,1208.6 540.1,1208.6 533.2,1187.3" fill="#800000"/>
<polygon points="547.3,1182.5 565.4,1195.6 558.5,1216.8 536.1,1216.8 529.2,1195.6" fill="#800000"/>
<polygon points="544.0,1189.2 562.1,1202.3 555.2,1223.6 532.9,1223.6 526.0,1202.3" fill="#800000"/>
<polygon points="541.4,1194.7 559.4,1207.9 552.5,1229.1 530.2,1229.1 523.3,1207.9" fill="#800000"/>
<polygon points="539.2,1199.3 557.3,1212.4 550.4,1233.6 528.0,1233.6 521.1,1212.4" fill="#800000"/>
<polygon points="537.4,1203.0 555.5,1216.1 548.6,1237.3 526.2,1237.3 519.3,1216.1" fill="#800000"/>
<polygon points="536.0,1206.0 554.0,1219.1 547.1,1240.4 524.8,1240.4 517.9,1219.1" fill="#800000"/>
<polygon points="534.8,1208.5 552.8,1221.6 545.9,1242.8 523.6,1242.8 516.7,1221.6" fill="#800000"/>
<polygon points="533.8,1210.5 551.9,1223.6 545.0,1244.9 522.6,1244.9 515.7,1223.6" fill="#800000"/>
<polygon points="533.0,1212.2 551.1,1225.3 544.2,1246.5 521.8,1246.5 514.9,1225.3" fill="#800000"/>
<polygon points="532.3,1213.5 550.4,1226.6 543.5,1247.9 521.2,1247.9 514.3,1226.6" fill="#800000"/>
<polygon points="531.8,1214.6 549.9,1227.7 543.0,1249.0 520.6,1249.0 513.7,1227.7" fill="#800000"/>
<polygon points="531.4,1215.5 549.4,1228.7 542.5,1249.9 520.2,1249.9 513.3,1228.7" fill="#800000"/>
<polygon points="531.0,1216.3 549.1,1229.4 542.2,1250.6 519.8,1250.6 512.9,1229.4" fill="#800000"/>
<polygon points="530.7,1216.9 548.8,1230.0 541.9,1251.2 519.5,1251.2 512.6,1230.0" fill="#800000"/>
<polygon points="530.5,1217.4 548.5,1230.5 541.6,1251.7 519.3,1251.7 512.4,1230.5" fill="#800000"/>
<polygon points="530.3,1217.8 548.3,1230.9 541.4,1252.1 519.1,1252.1 512.2,1230.9" fill="#800000"/>
<polygon points="530.1,1218.1 548.2,1231.2 541.3,1252.5 519.0,1252.5 512.0,1231.2" fill="#800000"/>
<polygon points="530.0,1218.4 548.1,1231.5 541.2,1252.8 518.8,1252.8 511.9,1231.5" fill="#800000"/>
<polygon points="529.9,1218.6 548.0,1231.7 541.0,1253.0 518.7,1253.0 511.8,1231.7" fill="#800000"/>
<polygon points="529.8,1218.8 547.9,1231.9 541.0,1253.2 518.6,1253.2 511.7,1231.9" fill="#800000"/>
<polygon points="529.7,1218.9 547.8,1232.1 540.9,1253.3 518.6,1253.3 511.7,1232.1" fill="#800000"/>
<polygon points="529.7,1219.1 547.7,1232.2 540.8,1253.4 518.5,1253.4 511.6,1232.2" fill="#800000"/>
<polygon points="529.6,1219.2 547.7,1232.3 540.8,1253.5 518.4,1253.5 511.5,1232.3" fill="#800000"/>
<polygon points="529.6,1219.2 547.6,1232.4 540.7,1253.6 518.4,1253.6 511.5,1232.4" fill="#800000"/>
<polygon points="529.5,1219.3 547.6,1232.4 540.7,1253.7 518.4,1253.7 511.5,1232.4" fill="#800000"/>
<polygon points="529.5,1219.4 547.6,1232.5 540.7,1253.7 518.3,1253.7 511.4,1232.5" fill="#800000"/>
<polygon points="529.5,1219.4 547.6,1232.5 540.7,1253.8 518.3,1253.8 511.4,1232.5" fill="#800000"/>
<polygon points="529.5,1219.4 547.5,1232.6 540.6,1253.8 518.3,1253.8 511.4,1232.6" fill="#800000"/>
<polygon points="529.5,1219.5 547.5,1232.6 540.6,1253.8 518.3,1253.8 511.4,1232.6" fill="#800000"/>
<polygon points="529.5,1219.5 547.5,1232.6 540.6,1253.9 518.3,1253.9 511.4,1232.6" fill="#800000"/>
<polygon points="529.4,1219.5 547.5,1232.6 540.6,1253.9 518.3,1253.9 511.4,1232.6" fill="#800000"/>
<polygon points="529.4,1219.5 547.5,1232.7 540.6,1253.9 518.3,1253.9 511.4,1232.7" fill="#800000"/>
<polygon points="529.4,1219.5 547.5,1232.7 540.6,1253.9 518.3,1253.9 511.4,1232.7" fill="#800000"/>
<polygon points="529.4,1219.6 547.5,1232.7 540.6,1253.9 518.3,1253.9 511.4,1232.7" fill="#800000"/>
<polygon points="529.4,1219.6 547.5,1232.7 540.6,1253.9 518.3,1253.9 511.3,1232.7" fill="#800000"/>
</g>
</g>
<g fill="none" stroke="#000" stroke-width="5" stroke-linecap="round" stroke-linejoin="round" shape-rendering="crispEdges">
<path d="M1656.7,364.6 L1600.0,389.0 L1518.8,423.9 L1407.2,484.4 L1292.0,549.9 L1226.5,591.5 L1153.4,638.1 L1040.0,717.3 L976.0,773.0 L950.0,796.0 L910.0,829.5 L880.0,853.0 L841.0,893.5 L814.3,919.0 L787.1,944.5 L761.9,968.5 L736.7,996.5 L715.3,1021.5 L698.2,1040.2 L678.3,1064.8 L659.3,1088.8 L638.0,1113.0 L617.0,1139.0 L570.0,1194.0 L533.0,1239.0"/>
<path d="M1479.8,503.8 L1392.8,508.3 L1322.3,514.6 L1181.0,544.9 L1122.6,572.6 L1052.0,600.3 L956.3,653.2 L878.0,710.6 L799.9,776.1 L774.8,800.0 L747.1,829.0 L721.9,856.7 L696.7,888.2 L677.8,913.4 L658.9,941.1 L640.0,973.9 L622.5,1013.0 L606.5,1053.0 L587.0,1100.0 L567.0,1155.0 L549.0,1200.0 L533.0,1239.0"/>
<path d="M1889.8,575.1 L1776.4,565.6 L1708.4,566.0 L1642.8,566.6 L1600.0,570.5 L1518.8,577.6 L1414.7,597.8 L1316.5,626.8 L1203.2,665.8 L1122.6,701.1 L1040.0,743.8 L976.0,788.0 L950.0,806.0 L910.0,836.5 L875.0,861.0 L850.0,877.0 L824.0,897.3 L794.9,921.6 L755.6,957.8 L730.4,984.3 L705.2,1011.4 L683.4,1040.2 L664.5,1064.8 L645.6,1088.8 L628.0,1114.0 L606.0,1146.0 L575.0,1188.0 L533.0,1239.0"/>
<path d="M1236.0,630.0 L1115.0,646.9 L1016.7,674.7 L921.0,721.3 L860.5,759.1 L800.0,800.0 L766.0,827.7 L740.8,850.4 L715.6,875.6 L694.2,900.8 L677.8,921.0 L658.9,948.7 L640.0,978.9 L620.0,1020.0 L604.0,1056.0 L586.0,1100.0 L566.0,1155.0 L548.5,1200.0 L533.0,1239.0"/>
<path d="M2066.7,154.4 L1877.2,198.3 L1731.0,251.2 L1600.0,301.3 L1481.0,353.3 L1392.8,396.2 L1292.0,461.7 L1155.9,555.0 L1069.7,612.9 L991.5,686.0 L926.0,746.5 L870.0,801.0 L841.6,832.8 L816.4,860.5 L791.2,888.2 L766.0,917.2 L740.8,948.7 L715.6,978.9 L695.0,1005.0 L676.0,1027.0 L660.0,1049.0 L635.6,1090.0 L600.0,1143.0 L570.0,1190.0 L545.0,1225.0 L533.0,1239.0"/>
<path d="M1568.0,342.5 L1481.0,357.1 L1392.8,372.2 L1226.5,425.2 L1103.0,492.0 L1040.0,529.7 L999.0,560.0 L900.8,635.6 L808.7,720.6 L752.0,788.7 L715.6,841.6 L690.4,875.6 L671.5,907.1 L653.9,938.6 L640.0,963.8 L617.5,1013.0 L600.8,1053.0 L585.5,1090.0 L565.0,1150.0 L548.0,1200.0 L533.0,1239.0"/>
<path d="M1792.3,364.1 L1669.0,403.7 L1600.0,428.0 L1436.2,495.7 L1317.2,562.5 L1226.5,612.9 L1161.0,653.2 L1040.0,728.7 L976.0,780.0 L950.0,801.0 L910.0,833.5 L880.0,858.0 L841.0,898.0 L814.3,923.5 L787.1,949.0 L761.9,973.0 L736.7,1000.5 L715.3,1025.5 L690.5,1055.4 L671.8,1078.1 L652.9,1098.2 L639.0,1115.0 L619.0,1140.5 L572.0,1195.0 L533.0,1239.0"/>
<path d="M1495.6,641.9 L1370.1,631.8 L1278.8,636.9 L1215.8,648.2 L1127.6,670.9 L1041.9,696.1 L951.2,736.4 L885.0,780.0 L859.0,800.0 L820.0,829.5 L788.0,854.0 L760.5,880.6 L734.5,907.1 L710.6,936.1 L684.1,970.1 L655.1,1007.9 L625.7,1048.8 L602.0,1090.0 L576.0,1150.0 L553.0,1200.0 L533.0,1239.0"/>
</g>
<rect x="369.6" y="25.5" width="1847.9" height="1374.5" fill="none" stroke="#000" stroke-width="5.2"/>
<g stroke="#000" stroke-width="6" stroke-linecap="round">
<line x1="449.8" y1="1400.0" x2="449.8" y2="1388.0"/>
<line x1="530.2" y1="1400.0" x2="530.2" y2="1374.5"/>
<line x1="610.6" y1="1400.0" x2="610.6" y2="1388.0"/>
<line x1="690.9" y1="1400.0" x2="690.9" y2="1374.5"/>
<line x1="771.3" y1="1400.0" x2="771.3" y2="1388.0"/>
<line x1="851.7" y1="1400.0" x2="851.7" y2="1374.5"/>
<line x1="932.0" y1="1400.0" x2="932.0" y2="1388.0"/>
<line x1="1012.4" y1="1400.0" x2="1012.4" y2="1374.5"/>
<line x1="1092.7" y1="1400.0" x2="1092.7" y2="1388.0"/>
<line x1="1173.1" y1="1400.0" x2="1173.1" y2="1374.5"/>
<line x1="1253.5" y1="1400.0" x2="1253.5" y2="1388.0"/>
<line x1="1333.8" y1="1400.0" x2="1333.8" y2="1374.5"/>
<line x1="1414.2" y1="1400.0" x2="1414.2" y2="1388.0"/>
<line x1="1494.6" y1="1400.0" x2="1494.6" y2="1374.5"/>
<line x1="1574.9" y1="1400.0" x2="1574.9" y2="1388.0"/>
<line x1="1655.3" y1="1400.0" x2="1655.3" y2="1374.5"/>
<line x1="1735.7" y1="1400.0" x2="1735.7" y2="1388.0"/>
<line x1="1816.0" y1="1400.0" x2="1816.0" y2="1374.5"/>
<line x1="1896.4" y1="1400.0" x2="1896.4" y2="1388.0"/>
<line x1="1976.8" y1="1400.0" x2="1976.8" y2="1374.5"/>
<line x1="2057.1" y1="1400.0" x2="2057.1" y2="1388.0"/>
<line x1="2137.5" y1="1400.0" x2="2137.5" y2="1374.5"/>
<line x1="369.6" y1="106.0" x2="394.1" y2="106.0"/>
<line x1="369.6" y1="186.8" x2="381.1" y2="186.8"/>
<line x1="369.6" y1="267.7" x2="394.1" y2="267.7"/>
<line x1="369.6" y1="348.5" x2="381.1" y2="348.5"/>
<line x1="369.6" y1="429.4" x2="394.1" y2="429.4"/>
<line x1="369.6" y1="510.2" x2="381.1" y2="510.2"/>
<line x1="369.6" y1="591.1" x2="394.1" y2="591.1"/>
<line x1="369.6" y1="671.9" x2="381.1" y2="671.9"/>
<line x1="369.6" y1="752.8" x2="394.1" y2="752.8"/>
<line x1="369.6" y1="833.6" x2="381.1" y2="833.6"/>
<line x1="369.6" y1="914.5" x2="394.1" y2="914.5"/>
<line x1="369.6" y1="995.4" x2="381.1" y2="995.4"/>
<line x1="369.6" y1="1076.2" x2="394.1" y2="1076.2"/>
<line x1="369.6" y1="1157.0" x2="381.1" y2="1157.0"/>
<line x1="369.6" y1="1237.9" x2="394.1" y2="1237.9"/>
<line x1="369.6" y1="1318.7" x2="381.1" y2="1318.7"/>
</g>
<g class="tk">
<text transform="translate(369.5,1470.9) scale(1.000,1.045)" text-anchor="middle">-200</text>
<text transform="translate(530.2,1470.9) scale(1.000,1.045)" text-anchor="middle">0</text>
<text transform="translate(690.9,1470.9) scale(1.000,1.045)" text-anchor="middle">200</text>
<text transform="translate(851.7,1470.9) scale(1.000,1.045)" text-anchor="middle">400</text>
<text transform="translate(1012.4,1470.9) scale(1.000,1.045)" text-anchor="middle">600</text>
<text transform="translate(1173.1,1470.9) scale(1.000,1.045)" text-anchor="middle">800</text>
<text transform="translate(1333.8,1470.9) scale(1.000,1.045)" text-anchor="middle">1000</text>
<text transform="translate(1494.6,1470.9) scale(1.000,1.045)" text-anchor="middle">1200</text>
<text transform="translate(1655.3,1470.9) scale(1.000,1.045)" text-anchor="middle">1400</text>
<text transform="translate(1816.0,1470.9) scale(1.000,1.045)" text-anchor="middle">1600</text>
<text transform="translate(1976.8,1470.9) scale(1.000,1.045)" text-anchor="middle">1800</text>
<text transform="translate(2137.5,1470.9) scale(1.000,1.045)" text-anchor="middle">2000</text>
<text transform="translate(339.2,120.2) scale(1.000,1.045)" text-anchor="end">-1400</text>
<text transform="translate(339.2,281.9) scale(1.000,1.045)" text-anchor="end">-1200</text>
<text transform="translate(339.2,443.6) scale(1.000,1.045)" text-anchor="end">-1000</text>
<text transform="translate(339.2,605.3) scale(1.000,1.045)" text-anchor="end">-800</text>
<text transform="translate(339.2,767.0) scale(1.000,1.045)" text-anchor="end">-600</text>
<text transform="translate(339.2,928.7) scale(1.000,1.045)" text-anchor="end">-400</text>
<text transform="translate(339.2,1090.4) scale(1.000,1.045)" text-anchor="end">-200</text>
<text transform="translate(339.2,1252.1) scale(1.000,1.045)" text-anchor="end">0</text>
<text transform="translate(339.2,1413.8) scale(1.000,1.045)" text-anchor="end">200</text>
</g>
<g shape-rendering="crispEdges">
<rect x="473.9" y="77.7" width="29.2" height="29.2" fill="#000000"/>
<circle cx="488.9" cy="157.7" r="16.7" fill="#ff0000"/>
<polygon points="489.0,200.8 509.0,234.7 469.0,234.7" fill="#0000ff"/>
<polygon points="489.0,309.9 509.0,276.0 469.0,276.0" fill="#008080"/>
<polygon points="466.4,353.8 500.9,333.9 500.9,373.7" fill="#ff00ff"/>
<polygon points="511.4,419.3 476.9,399.4 476.9,439.2" fill="#808000"/>
<polygon points="489.0,463.9 509.6,484.5 489.0,505.1 468.4,484.5" fill="#000080"/>
<polygon points="489.0,530.2 507.1,543.4 500.2,564.6 477.8,564.6 470.9,543.4" fill="#800000"/>
</g>
<g class="tk">
<text transform="translate(563.8,110.6) scale(1.000,1.045)" text-anchor="start">L04-A</text>
<text transform="translate(563.8,175.8) scale(1.000,1.045)" text-anchor="start">L04-B</text>
<text transform="translate(563.8,241.0) scale(1.000,1.045)" text-anchor="start">L04-C</text>
<text transform="translate(563.8,306.3) scale(1.000,1.045)" text-anchor="start">L04-D</text>
<text transform="translate(563.8,371.5) scale(1.000,1.045)" text-anchor="start">L05-A</text>
<text transform="translate(563.8,436.7) scale(1.000,1.045)" text-anchor="start">L05-B</text>
<text transform="translate(563.8,501.9) scale(1.000,1.045)" text-anchor="start">L05-C</text>
<text transform="translate(563.8,567.1) scale(1.000,1.045)" text-anchor="start">L05-D</text>
<text transform="translate(563.8,632.0) scale(0.988,1.045)" text-anchor="start">Fitted line</text>
</g>
<line x1="430" y1="614.7" x2="549" y2="614.7" stroke="#000" stroke-width="5" stroke-linecap="round"/>
<g>
<text class="ti"  transform="translate(1072.8,1607.1) scale(1.090,1.000)">Z</text>
<text class="su"  transform="translate(1126.0,1639.1) scale(1.000,1.000)">real</text>
<text class="ti"  transform="translate(1197.5,1607.1) scale(1.000,1.000)">(</text>
<text class="ti"  transform="translate(1224.0,1607.1) scale(1.070,1.000)">Ω</text>
<text class="ti" style="font-size:66px" transform="translate(1292.2,1600.5) scale(1.000,1.000)">·</text>
<text class="ti"  transform="translate(1359.0,1607.1) scale(1.005,1.000)">cm</text>
<text class="su"  transform="translate(1459.0,1559.2) scale(1.000,1.000)">2</text>
<text class="ti"  transform="translate(1484.3,1607.1) scale(1.000,1.000)">)</text>
</g>
<g transform="translate(97.6,1000) rotate(-90)">
<text class="ti"  transform="translate(-3.0,0.0) scale(1.000,1.000)">-</text>
<text class="ti"  transform="translate(21.8,0.0) scale(1.090,1.000)">Z</text>
<text class="su"  transform="translate(77.0,32.5) scale(1.020,1.000)">imag</text>
<text class="ti"  transform="translate(176.5,0.0) scale(1.000,1.000)">(</text>
<text class="ti"  transform="translate(201.3,0.0) scale(1.070,1.000)">Ω</text>
<text class="ti" style="font-size:66px" transform="translate(270.8,-6.6) scale(1.000,1.000)">·</text>
<text class="ti"  transform="translate(338.0,0.0) scale(1.024,1.000)">cm</text>
<text class="su"  transform="translate(439.5,-46.0) scale(1.120,1.060)">2</text>
<text class="ti"  transform="translate(466.0,0.0) scale(1.000,1.000)">)</text>
</g>
</svg></body></html>
